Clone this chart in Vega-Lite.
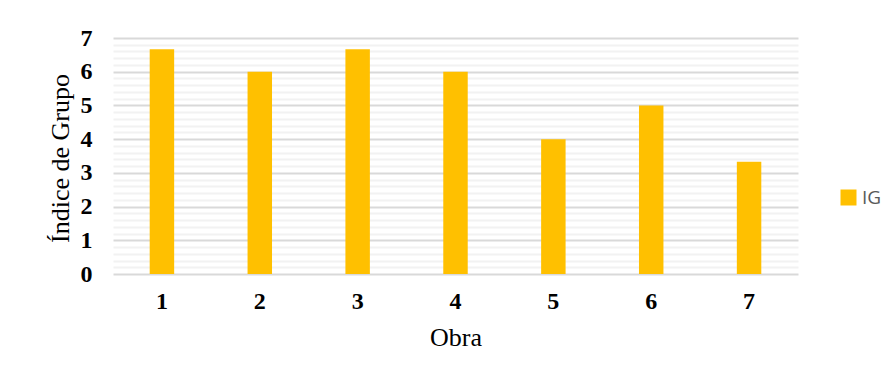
{
  "$schema": "https://vega.github.io/schema/vega-lite/v6.json",
  "width": 685,
  "height": 236,
  "autosize": {"type": "none"},
  "padding": {"left": 113, "top": 38, "right": 98, "bottom": 107},
  "background": "#ffffff",
  "data": {
    "values": [
      {"obra": 1, "serie": "IG", "indice": 6.67},
      {"obra": 2, "serie": "IG", "indice": 6},
      {"obra": 3, "serie": "IG", "indice": 6.67},
      {"obra": 4, "serie": "IG", "indice": 6},
      {"obra": 5, "serie": "IG", "indice": 4},
      {"obra": 6, "serie": "IG", "indice": 5},
      {"obra": 7, "serie": "IG", "indice": 3.33}
    ]
  },
  "mark": {"type": "bar"},
  "encoding": {
    "x": {
      "field": "obra",
      "type": "ordinal",
      "title": "Obra",
      "scale": {"paddingInner": 0.75, "paddingOuter": 0.375},
      "axis": {
        "labelAngle": 0,
        "labelFont": "Liberation Serif",
        "labelFontWeight": "bold",
        "labelFontSize": 24,
        "labelColor": "#000000",
        "labelPadding": 15,
        "ticks": false,
        "domain": false,
        "titleFont": "Liberation Serif",
        "titleFontWeight": "normal",
        "titleFontSize": 26,
        "titleColor": "#000000",
        "titlePadding": 11
      }
    },
    "y": {
      "field": "indice",
      "type": "quantitative",
      "title": "Índice de Grupo",
      "scale": {"domain": [0, 7], "nice": false},
      "axis": {
        "values": [0, 0.2, 0.4, 0.6, 0.8, 1, 1.2, 1.4, 1.6, 1.8, 2, 2.2, 2.4, 2.6, 2.8, 3, 3.2, 3.4, 3.6, 3.8, 4, 4.2, 4.4, 4.6, 4.8, 5, 5.2, 5.4, 5.6, 5.8, 6, 6.2, 6.4, 6.6, 6.8, 7],
        "labelExpr": "datum.value % 1 === 0 ? format(datum.value, 'd') : ''",
        "gridColor": {"condition": {"test": "datum.value % 1 === 0", "value": "#d9d9d9"}, "value": "#f2f2f2"},
        "gridWidth": 2,
        "ticks": false,
        "domain": false,
        "labelFont": "Liberation Serif",
        "labelFontWeight": "bold",
        "labelFontSize": 24,
        "labelColor": "#000000",
        "labelPadding": 21,
        "titleFont": "Liberation Serif",
        "titleFontWeight": "normal",
        "titleFontSize": 26,
        "titleColor": "#000000",
        "titlePadding": 7,
        "titleY": 120
      }
    },
    "color": {
      "field": "serie",
      "type": "nominal",
      "title": null,
      "scale": {"range": ["#ffc000"]},
      "legend": {
        "orient": "none",
        "legendX": 726,
        "legendY": 150,
        "padding": 0,
        "symbolType": "square",
        "symbolSize": 256,
        "symbolStrokeWidth": 0,
        "symbolOpacity": 1,
        "labelFont": "Open Sans",
        "labelFontSize": 19,
        "labelColor": "#595959",
        "labelOffset": 4
      }
    }
  },
  "config": {
    "view": {"stroke": null}
  }
}
